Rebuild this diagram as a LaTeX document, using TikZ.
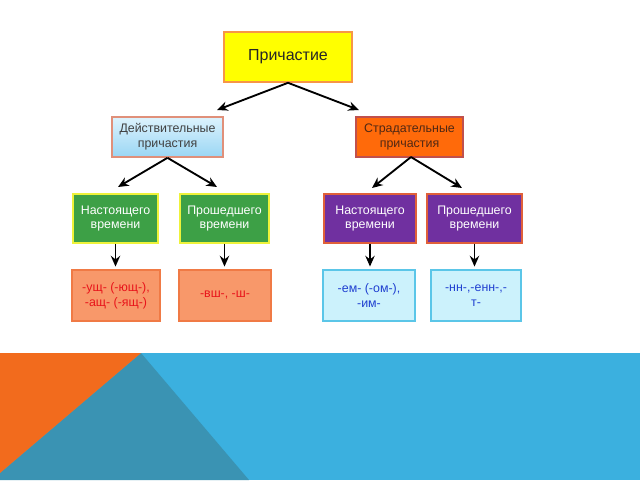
\documentclass[tikz,border=0pt]{standalone}
\usepackage{fontspec}
\setmainfont{Liberation Sans}
\usetikzlibrary{arrows.meta}
\definecolor{yel}{HTML}{FFFF00}
\definecolor{yelbd}{HTML}{F79646}
\definecolor{dejtop}{HTML}{DDF3FD}
\definecolor{dejbot}{HTML}{9AD6F4}
\definecolor{dejbd}{HTML}{E0907A}
\definecolor{strfill}{HTML}{FF6A0A}
\definecolor{strbd}{HTML}{C0504D}
\definecolor{grn}{HTML}{3DA046}
\definecolor{grnbd}{HTML}{EEF23A}
\definecolor{pur}{HTML}{7030A0}
\definecolor{purbd}{HTML}{E0603A}
\definecolor{sal}{HTML}{F8986A}
\definecolor{salbd}{HTML}{F07A45}
\definecolor{saltx}{HTML}{E8141B}
\definecolor{cyn}{HTML}{CCF2FC}
\definecolor{cynbd}{HTML}{5BC6E8}
\definecolor{cyntx}{HTML}{1F3FD0}
\definecolor{band}{HTML}{3BB0DF}
\definecolor{bandor}{HTML}{F26B1D}
\definecolor{bandtl}{HTML}{3A93B3}
\begin{document}
\begin{tikzpicture}[x=0.75pt,y=-0.75pt,
  box/.style={draw, line width=1.2pt, align=center, inner sep=0pt, font=\fontsize{9.3}{11}\selectfont},
  conn/.style={-{Stealth[length=8pt,width=7pt]}, line width=1.4pt, black},
]
\useasboundingbox (0,0) rectangle (640,480);
\fill[white] (0,0) rectangle (640,480);
% bottom band
\fill[band] (0,353) rectangle (640,480);
\fill[bandtl] (141,353) -- (0,473) -- (0,480) -- (249,480) -- cycle;
\fill[bandor] (0,353) -- (141,353) -- (0,473) -- cycle;

\node[box, fill=yel, draw=yelbd, minimum width=128*0.75pt, minimum height=50*0.75pt, font=\fontsize{12}{14}\selectfont, text=black!85] (top) at (288,57) {Причастие};

\node[box, draw=dejbd, top color=dejtop, bottom color=dejbot, minimum width=111*0.75pt, minimum height=40*0.75pt, text=black!75] (dej) at (167.5,137) {Действительные\\причастия};
\node[box, fill=strfill, draw=strbd, minimum width=107*0.75pt, minimum height=40*0.75pt, text={rgb,255:red,80;green,40;blue,20}] (str) at (409.5,137) {Страдательные\\причастия};

\node[box, fill=grn, draw=grnbd, text=white, minimum width=85*0.75pt, minimum height=49*0.75pt] (g1) at (115.5,218.5) {Настоящего\\времени};
\node[box, fill=grn, draw=grnbd, text=white, minimum width=89*0.75pt, minimum height=49*0.75pt] (g2) at (224.5,218.5) {Прошедшего\\времени};
\node[box, fill=pur, draw=purbd, text=white, minimum width=92*0.75pt, minimum height=49*0.75pt] (p1) at (370,218.5) {Настоящего\\времени};
\node[box, fill=pur, draw=purbd, text=white, minimum width=95*0.75pt, minimum height=49*0.75pt] (p2) at (474.5,218.5) {Прошедшего\\времени};

\node[box, fill=sal, draw=salbd, text=saltx, minimum width=88*0.75pt, minimum height=51*0.75pt] (o1) at (116,295.5) {-ущ- (-ющ-),\\-ащ- (-ящ-)};
\node[box, fill=sal, draw=salbd, text=saltx, minimum width=92*0.75pt, minimum height=51*0.75pt] (o2) at (225,295.5) {-вш-, -ш-};
\node[box, fill=cyn, draw=cynbd, text=cyntx, minimum width=92*0.75pt, minimum height=51*0.75pt] (c1) at (369,295.5) {-ем- (-ом-),\\-им-};
\node[box, fill=cyn, draw=cynbd, text=cyntx, minimum width=90*0.75pt, minimum height=51*0.75pt] (c2) at (476,295.5) {-нн-,-енн-,-\\т-};

\coordinate (t1) at (217,110);
\coordinate (t2) at (359,110);
\coordinate (d1) at (118,187);
\coordinate (d2) at (217,187);
\coordinate (s1) at (372,188);
\coordinate (s2) at (462,188);
\coordinate (sstart) at (411,157);

\draw[conn] (top.south) -- (t1);
\draw[conn] (top.south) -- (t2);
\draw[conn] (dej.south) -- (d1);
\draw[conn] (dej.south) -- (d2);
\draw[conn] (sstart) -- (s1);
\draw[conn] (sstart) -- (s2);
\draw[conn, shorten >=2pt] (g1.south) -- (o1.north -| g1.south);
\draw[conn, shorten >=2pt] (g2.south) -- (o2.north -| g2.south);
\draw[conn, shorten >=2pt] (p1.south) -- (c1.north -| p1.south);
\draw[conn, shorten >=2pt] (p2.south) -- (c2.north -| p2.south);
\end{tikzpicture}
\end{document}
